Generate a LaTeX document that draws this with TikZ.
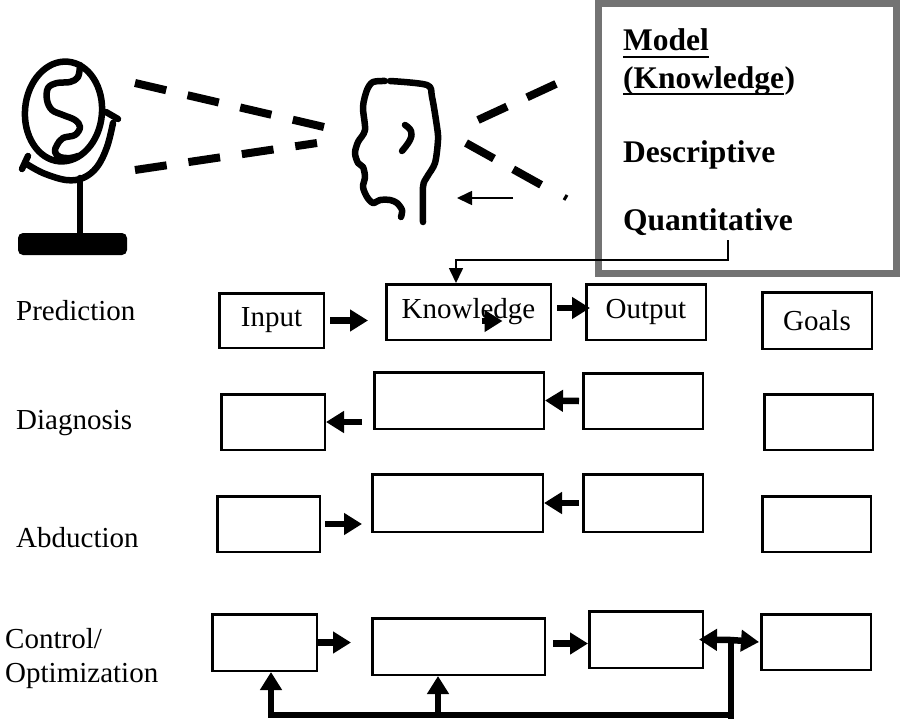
\documentclass[tikz,border=0pt]{standalone}
\usepackage{fontspec}
\setmainfont{Liberation Serif}
\usetikzlibrary{arrows.meta}

\begin{document}
\begin{tikzpicture}[x=1pt, y=-1pt,
        box/.style={draw, line width=2.5pt, inner sep=0pt, font=\fontsize{29}{34}\selectfont},
        fat/.style={line width=6.5pt, -{Triangle[length=18pt,width=21pt]}},
        feed/.style={line width=1.6pt, -{Triangle[length=15pt,width=14pt]}},
        ray/.style={line width=8pt, dash pattern=on 32pt off 22pt},
        sketch/.style={line width=6.5pt, line cap=round, line join=round},
        lbl/.style={anchor=base west, inner sep=0pt, font=\fontsize{29}{34}\selectfont},
        title/.style={anchor=base west, inner sep=0pt, font=\fontsize{31.5}{36}\selectfont\bfseries}]
    \useasboundingbox (0,0) rectangle (901,720);

    % globe on its stand
    \draw[sketch, rotate around={-5:(63.5,111.5)}] (63.5,111.5) ellipse (38.5pt and 50pt);
    \draw[sketch] plot[smooth, tension=0.6] coordinates {(80,65) (78,77) (70,82) (57,83) (48,88) (47,100)
        (52,110) (63,115) (75,120) (80,127) (75,135) (63,138) (57,145) (55,152) (60,157) (70,158) (78,156)};
    \draw[sketch] plot[smooth, tension=0.6] coordinates {(25,163) (43,173) (66,180) (83,178) (97,167) (107,147) (113,123)};
    \draw[sketch] (22,169) -- (28,156);
    \draw[sketch] (106,112) -- (118,119);
    \draw[sketch] (80,178) -- (80,236);
    \fill[rounded corners=5pt] (18,233) rectangle (127,255);

    % head in profile
    \draw[sketch] plot[smooth, tension=0.5] coordinates {(385,81) (373,82) (367,90) (363,107) (365,130) (358,142)
        (355,153) (358,163) (363,167) (365,177) (363,187) (367,197) (373,203) (380,200) (390,200) (397,203)
        (402,210) (401,217)};
    \draw[sketch] plot[smooth, tension=0.5] coordinates {(390,81) (427,85) (432,97) (437,127) (438,140)
        (435,163) (427,177) (423,187) (423,222)};
    \draw[sketch] plot[smooth, tension=0.7] coordinates {(405,125) (411,131) (410,140) (402,151)};

    % lines of sight
    \draw[ray] (135,83) -- (324,127);
    \draw[ray] (135,170) -- (317,143);
    \draw[ray] (478,120) -- (558,83);
    \draw[ray] (466,143) -- (545,187);
    \draw[line width=3pt] (564,200) -- (567,195);
    \draw[feed] (513,198) -- (457,198);

    % model panel
    \node[draw=black!55, line width=7pt, minimum width=298pt, minimum height=270pt, inner sep=0pt]
        (model) at (747.5,138.5) {};
    \node[title] (mtitle) at (623,50) {Model};
    \node[title] (ktitle) at (623,88) {(Knowledge};
    \node[title] (kclose) at (ktitle.base east) {)};
    \node[title] (desc) at (623,162) {Descriptive};
    \node[title] (quant) at (623,230) {Quantitative};
    \draw[line width=2.5pt] ([yshift=-7pt]mtitle.base west) -- ([yshift=-7pt]mtitle.base east);
    \draw[line width=2.5pt] ([yshift=-6pt]ktitle.base west) -- ([yshift=-6pt]ktitle.base east);
    \coordinate (qtap) at (728,240);

    % row labels
    \node[lbl] (pred) at (16,320) {Prediction};
    \node[lbl] (diag) at (16,429) {Diagnosis};
    \node[lbl] (abd) at (16,547) {Abduction};
    \node[lbl] (ctrl) at (5,648) {Control/};
    \node[lbl] (opt) at (5,682) {Optimization};

    % prediction
    \node[box, minimum width=104.5pt, minimum height=54.5pt] (in1) at (271.5,320.5) {Input};
    \node[box, minimum width=164.5pt, minimum height=55.5pt] (kn1) at (468.5,312) {Knowledge};
    \node[box, minimum width=119.5pt, minimum height=55.5pt] (out1) at (646,312) {Output};
    \node[box, minimum width=109.5pt, minimum height=56.5pt] (goal1) at (817,320.5) {Goals};
    \draw[fat] ([xshift=5pt]in1.east) -- ++(38,0);
    \draw[fat] ([xshift=5pt,yshift=4pt]kn1.east) -- ([yshift=4pt]kn1.east -| out1.west) -- ++(5,0);
    \draw[fat] (kn1.center) ++(13,9) -- ++(21,0);
    \draw[feed] (qtap) -- ++(0,20) -| ([xshift=-12.5pt]kn1.north);

    % diagnosis
    \node[box, minimum width=103.5pt, minimum height=55.5pt] (in2) at (273,422) {};
    \node[box, minimum width=169.5pt, minimum height=56.5pt] (kn2) at (459,400.5) {};
    \node[box, minimum width=119.5pt, minimum height=55.5pt] (out2) at (643,401) {};
    \node[box, minimum width=108.5pt, minimum height=55.5pt] (goal2) at (818.5,422) {};
    \draw[fat] ([xshift=-3pt]out2.west) -- (kn2.east);
    \draw[fat] ([xshift=-11pt]kn2.west |- in2.east) -- (in2.east);

    % abduction
    \node[box, minimum width=102.5pt, minimum height=55.5pt] (in3) at (268.5,524) {};
    \node[box, minimum width=170.5pt, minimum height=57.5pt] (kn3) at (457.5,503) {};
    \node[box, minimum width=119.5pt, minimum height=57.5pt] (out3) at (643,503) {};
    \node[box, minimum width=108.5pt, minimum height=55.5pt] (goal3) at (816.5,524) {};
    \draw[fat] ([xshift=4pt]in3.east) -- ([xshift=-9pt]kn3.west |- in3.east);
    \draw[fat] ([xshift=-3pt]out3.west) -- (kn3.east);

    % control / optimization
    \node[box, minimum width=104.5pt, minimum height=56.5pt] (in4) at (264.5,642.5) {};
    \node[box, minimum width=172.5pt, minimum height=56.5pt] (kn4) at (458.5,646.5) {};
    \node[box, minimum width=113.5pt, minimum height=56.5pt] (out4) at (646,639.5) {};
    \node[box, minimum width=109.5pt, minimum height=55.5pt] (goal4) at (816,642) {};
    \draw[fat] (in4.east) -- ([xshift=-20pt]kn4.west |- in4.east);
    \draw[fat] ([xshift=7pt,yshift=3pt]kn4.east) -- ([yshift=3pt]kn4.east -| out4.west);
    \coordinate (split) at (731,640);
    \coordinate (bus) at (731,715);
    \draw[fat] (split) -- ([xshift=-5pt]out4.east);
    \draw[fat] (split) -- ([xshift=-1pt]goal4.west);
    \draw[line width=6.5pt] (split) -- ++(0,79);
    \draw[fat] (bus) -- ([xshift=6.5pt]in4.south |- bus) -- ([xshift=6.5pt]in4.south);
    \draw[fat] ([xshift=-20.5pt]kn4.south |- bus) -- ([xshift=-20.5pt]kn4.south);
\end{tikzpicture}
\end{document}
